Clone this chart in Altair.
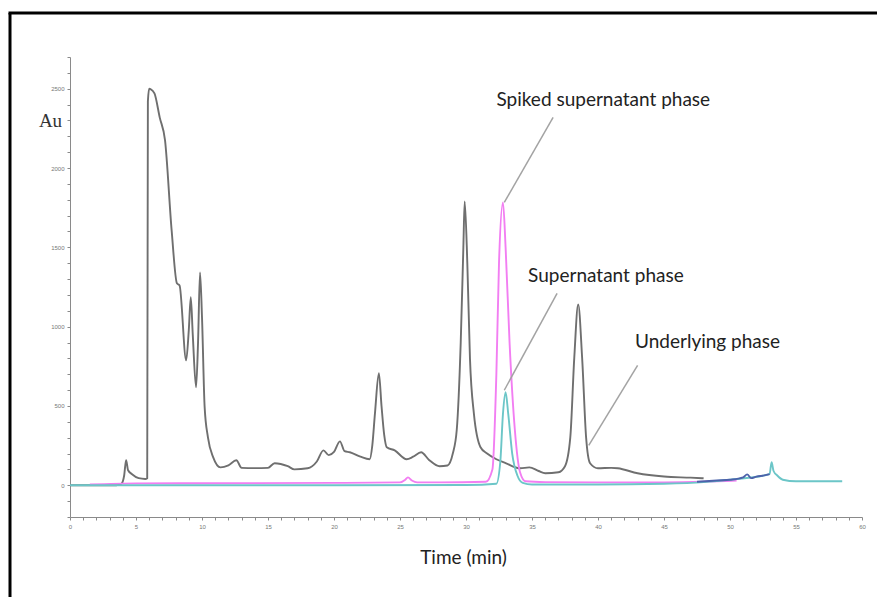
import altair as alt
import pandas as pd

# ---- data ----
gray_t = [0, 3.5, 3.9, 4.1, 4.25, 4.4, 4.7, 5.2, 5.7, 5.85, 5.9, 6.0, 6.1, 6.4, 6.8, 7.2,
          7.7, 8.1, 8.3, 8.8, 9.0, 9.15, 9.3, 9.55, 9.7, 9.85, 10.0, 10.2, 10.45, 10.85,
          11.4, 12.0, 12.6, 13.0, 14.0, 15.0, 15.5, 16.5, 17.0, 18.0, 18.7, 19.2, 19.6,
          20.0, 20.45, 20.8, 21.2, 22.0, 22.7, 22.9, 23.1, 23.4, 23.6, 23.8, 24.0, 24.6,
          25.5, 26.0, 26.6, 27.2, 28.0, 28.6, 29.0, 29.3, 29.6, 29.8, 29.9, 30.1, 30.3,
          30.6, 31.1, 31.6, 32.3, 33.0, 34.1, 34.8, 35.5, 36.0, 37.0, 37.5, 37.9, 38.2,
          38.5, 38.8, 39.1, 39.4, 40.0, 41.0, 41.5, 43.0, 45.0, 47.0, 48.0]
gray_v = [0, 0, 10, 60, 158, 95, 70, 45, 40, 45, 2420, 2500, 2498, 2470, 2318, 2174,
          1607, 1273, 1260, 788, 980, 1185, 950, 618, 900, 1342, 1060, 493, 302, 176,
          113, 126, 158, 110, 108, 110, 139, 120, 100, 107, 150, 220, 190,
          210, 277, 215, 208, 180, 164, 250, 450, 706, 500, 320, 240, 220,
          164, 180, 208, 160, 120, 125, 200, 350, 900, 1500, 1790, 1400, 800,
          450, 240, 200, 164, 140, 107, 113, 90, 76, 82, 120, 300, 800,
          1140, 800, 300, 139, 107, 110, 107, 76, 55, 48, 44]

spiked_t = [1.5, 5, 10, 20, 25, 25.4, 25.6, 25.9, 26.3, 28, 31.5, 32.0, 32.3, 32.5,
            32.8, 33.0, 33.3, 33.7, 34.1, 34.5, 36, 40, 45, 48, 50.5]
spiked_v = [5, 12, 13, 15, 18, 35, 50, 30, 18, 18, 22, 100, 700, 1400,
            1783, 1500, 900, 350, 80, 25, 20, 18, 18, 22, 30]

super_t = [0, 10, 20, 30, 32.3, 32.6, 32.8, 33.0, 33.2, 33.5, 33.9, 34.3, 35, 40, 45,
           48, 50, 53.0, 53.15, 53.3, 53.6, 54, 55, 58.5]
super_v = [0, 0, 0, 2, 10, 150, 450, 586, 450, 200, 60, 15, 5, 5, 10,
           20, 35, 70, 145, 90, 60, 35, 25, 25]

blue_t = [47.5, 49, 50, 51, 51.3, 51.6, 52, 52.6, 53.0]
blue_v = [22, 30, 35, 50, 69, 45, 55, 62, 70]

series_names = ["Underlying phase", "Spiked supernatant phase", "Supernatant phase", "Blue"]
series_colors = ["#6f6f6f", "#f27ef2", "#6cc6c8", "#4d62aa"]

ann_text = ["Spiked supernatant phase", "Supernatant phase", "Underlying phase"]
ann_t = [40.4, 40.6, 48.3]
ann_v = [2426, 1317, 901]
lead_t1 = [36.6, 36.9, 43.0]
lead_v1 = [2319, 1210, 756]
lead_t2 = [32.9, 32.9, 39.3]
lead_v2 = [1783, 599, 252]

# ---- build tables ----
rows = []
for name, ts, vs in zip(series_names, [gray_t, spiked_t, super_t, blue_t],
                        [gray_v, spiked_v, super_v, blue_v]):
    for i, (t, v) in enumerate(zip(ts, vs)):
        rows.append({"series": name, "t": t, "v": v, "i": i})
df = pd.DataFrame(rows)
ann = pd.DataFrame({"text": ann_text, "t": ann_t, "v": ann_v})
lead = pd.DataFrame({"t1": lead_t1, "v1": lead_v1, "t2": lead_t2, "v2": lead_v2})

xscale = alt.Scale(domain=[0, 60], nice=False, zero=False)
yscale = alt.Scale(domain=[-200, 2700], nice=False, zero=False)

xaxis = alt.Axis(values=list(range(0, 61)), tickCount=200,
                 labelExpr="datum.value % 5 == 0 ? datum.value : ''",
                 labelOverlap=False, labelFlush=False,
                 tickSize=3, tickColor="#8a8a8a", domainColor="#8a8a8a",
                 labelFontSize=6, labelColor="#777777", labelPadding=3,
                 grid=False, title="Time (min)", titleFont="Lato",
                 titleFontSize=19, titleFontWeight="normal", titleColor="#222222",
                 titlePadding=19, titleX=393)
yaxis = alt.Axis(values=list(range(-200, 2701, 100)), tickCount=200,
                 labelExpr="datum.value >= 0 && datum.value % 500 == 0 ? datum.value : ''",
                 labelOverlap=False, labelFlush=False,
                 tickSize=3, tickColor="#8a8a8a", domainColor="#8a8a8a",
                 labelFontSize=6, labelColor="#777777", labelPadding=3,
                 grid=False, title="Au", titleAngle=0, titleX=-20, titleY=73,
                 titleFont="Liberation Serif", titleFontSize=19,
                 titleFontWeight="normal", titleColor="#333333")

lines = alt.Chart(df).mark_line(strokeWidth=1.9, interpolate="monotone").encode(
    x=alt.X("t:Q", scale=xscale, axis=xaxis),
    y=alt.Y("v:Q", scale=yscale, axis=yaxis),
    color=alt.Color("series:N", scale=alt.Scale(domain=series_names, range=series_colors),
                    legend=None),
    order="i:Q",
)

leaders = alt.Chart(lead).mark_rule(color="#a3a3a3", strokeWidth=1.5).encode(
    x=alt.X("t1:Q", scale=xscale), y=alt.Y("v1:Q", scale=yscale),
    x2="t2:Q", y2="v2:Q")

labels = alt.Chart(ann).mark_text(font="Lato", fontSize=19, color="#222222",
                                  align="center", baseline="middle").encode(
    x=alt.X("t:Q", scale=xscale), y=alt.Y("v:Q", scale=yscale), text="text:N")

one = pd.DataFrame({"a": [0]})
border_left = alt.Chart(one).mark_rule(color="black", strokeWidth=3).encode(
    x=alt.value(-60), y=alt.value(-44), y2=alt.value(560))
border_top = alt.Chart(one).mark_rule(color="black", strokeWidth=3).encode(
    x=alt.value(-61.5), x2=alt.value(815), y=alt.value(-44))

chart = alt.layer(lines, leaders, labels, border_left, border_top).properties(
    width=792, height=460,
    background="white",
    autosize=alt.AutoSizeParams(type="none"),
    padding={"left": 62, "top": 49, "right": 15, "bottom": 80},
).configure_view(strokeWidth=0, stroke=None)

chart.save("out.html", embed_options={"renderer": "svg", "actions": False})
